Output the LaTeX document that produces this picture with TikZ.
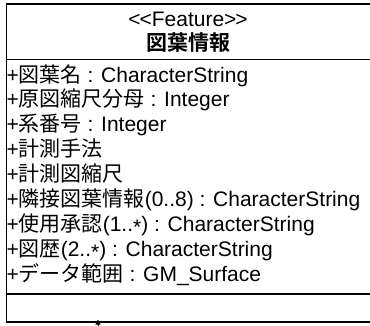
\documentclass[tikz,border=0pt]{standalone}
\usepackage{fontspec}
\setmainfont{Liberation Sans}
\newfontfamily\jp{Noto Sans CJK JP}
\newfontfamily\jpb{Noto Sans CJK JP Bold}
\usetikzlibrary{arrows.meta}
\newcommand{\midast}{\raisebox{-3.5pt}{*}}
\begin{document}
\begin{tikzpicture}[x=1pt,y=-1pt,
  every node/.style={inner sep=0pt, outer sep=0pt},
  boxline/.style={line width=1.5pt, draw=black},
  attr/.style={anchor=base west, font=\fontsize{21}{25}\selectfont},
  head/.style={anchor=base, font=\fontsize{21}{25}\selectfont}]
\useasboundingbox (0,0) rectangle (370,325);
% class box
\node (cls) [boxline, anchor=north west, minimum width=368pt, minimum height=318pt] at (6.5,4) {};
\coordinate (s1) at (6.5,59.5);
\coordinate (s2) at (6.5,294);
\draw[boxline] (s1) -- (s1 -| cls.east);
\draw[boxline] (s2) -- (s2 -| cls.east);
% header
\node[head] (stereo) at (188,26) {<\kern-1pt<Feature>\kern-1pt>};
\node[head] (name) at (188,50.5) {\jpb 図葉情報};
% attributes
\node[attr] (a1) at (6.5,82.0) {+{\jp 図葉名} : CharacterString};
\node[attr] (a2) at (6.5,106.9) {+{\jp 原図縮尺分母} : Integer};
\node[attr] (a3) at (6.5,131.8) {+{\jp 系番号} : Integer};
\node[attr] (a4) at (6.5,156.7) {+{\jp 計測手法}};
\node[attr] (a5) at (6.5,181.6) {+{\jp 計測図縮尺}};
\node[attr] (a6) at (6.5,206.5) {+{\jp 隣接図葉情報}(0..8) : CharacterString};
\node[attr] (a7) at (6.5,231.4) {+{\jp 使用承認}(1..\midast) : CharacterString};
\node[attr] (a8) at (6.5,256.3) {+{\jp 図歴}(2..\midast) : CharacterString};
\node[attr] (a9) at (6.5,281.2) {+{\jp データ範囲} : GM\_Surface};
% connector entering from below
\coordinate (src) at (98,340);
\coordinate (tip) at (98,319.5);
\draw[line width=1pt, -{Triangle[length=5pt,width=5pt]}] (src) -- (tip);
\end{tikzpicture}
\end{document}
